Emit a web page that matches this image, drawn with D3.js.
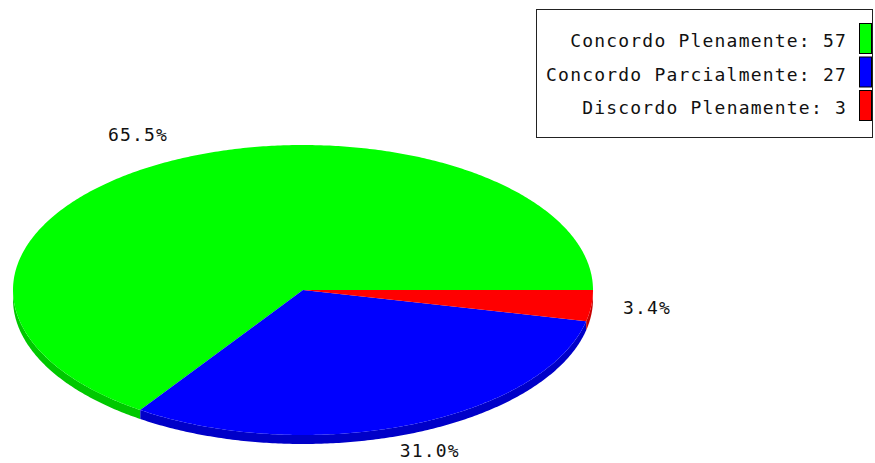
<!DOCTYPE html>
<html>
<head>
<meta charset="utf-8">
<script src="https://cdn.jsdelivr.net/npm/d3@7"></script>
<style>
  body { margin: 0; background: #fff; }
  text { font-family: "DejaVu Sans Mono", monospace; font-size: 18px; letter-spacing: 1.2px; fill: #111; }
</style>
</head>
<body>
<svg id="chart" width="875" height="463"></svg>
<script>
// data
const categories = ["Concordo Plenamente", "Concordo Parcialmente", "Discordo Plenamente"];
const values = [57, 27, 3];
const colors = ["#00ff00", "#0000ff", "#ff0000"];
const sideColors = ["#00c800", "#0000c8", "#c80000"];

const width = 875, height = 463;
const cx = 303, cy = 290;   // centre of the top face
const rx = 290, ry = 145;   // ellipse radii
const depth = 9;            // thickness of the pie

const svg = d3.select("#chart");

// angles: counter clockwise from 3 o'clock
const pie = d3.pie().sort(null).value(d => d).startAngle(0).endAngle(2 * Math.PI);
const arcs = pie(values);
const total = d3.sum(values);

const px = a => cx + rx * Math.cos(a);
const py = a => cy - ry * Math.sin(a);
const line = d3.line();

function sample(a0, a1) {
  const n = Math.max(2, Math.ceil(Math.abs(a1 - a0) / 0.01));
  return d3.range(n + 1).map(i => a0 + (a1 - a0) * i / n);
}

// side walls (only the front half is visible)
arcs.forEach((d, i) => {
  const s = Math.max(d.startAngle, Math.PI);
  const e = Math.min(d.endAngle, 2 * Math.PI);
  if (s >= e) return;
  const top = sample(s, e).map(a => [px(a), py(a)]);
  const bottom = sample(e, s).map(a => [px(a), py(a) + depth]);
  svg.append("path")
    .attr("d", line(top.concat(bottom)) + "Z")
    .attr("fill", sideColors[i]);
});

// top faces
arcs.forEach((d, i) => {
  const pts = [[cx, cy]].concat(sample(d.startAngle, d.endAngle).map(a => [px(a), py(a)]));
  svg.append("path")
    .attr("d", line(pts) + "Z")
    .attr("fill", colors[i]);
});

// percentage labels
arcs.forEach((d, i) => {
  const m = (d.startAngle + d.endAngle) / 2;
  svg.append("text")
    .attr("x", cx + 1.2 * rx * Math.cos(m) - 2)
    .attr("y", cy - 1.2 * ry * Math.sin(m))
    .attr("text-anchor", "middle")
    .attr("dominant-baseline", "middle")
    .text((values[i] / total * 100).toFixed(1) + "%");
});

// legend
const legend = svg.append("g");
legend.append("rect")
  .attr("x", 536.5).attr("y", 9.5)
  .attr("width", 336).attr("height", 128)
  .attr("fill", "#fff").attr("stroke", "#222");

const rowY = d3.scalePoint().domain(categories).range([42, 109]);
categories.forEach((c, i) => {
  const y = rowY(c);
  legend.append("text")
    .attr("x", 847).attr("y", y)
    .attr("text-anchor", "end")
    .attr("dominant-baseline", "middle")
    .text(c + ": " + values[i]);
  legend.append("rect")
    .attr("x", 859.5).attr("y", y - 18.5)
    .attr("width", 12).attr("height", 30)
    .attr("fill", colors[i]).attr("stroke", "#000");
});
</script>
</body>
</html>
